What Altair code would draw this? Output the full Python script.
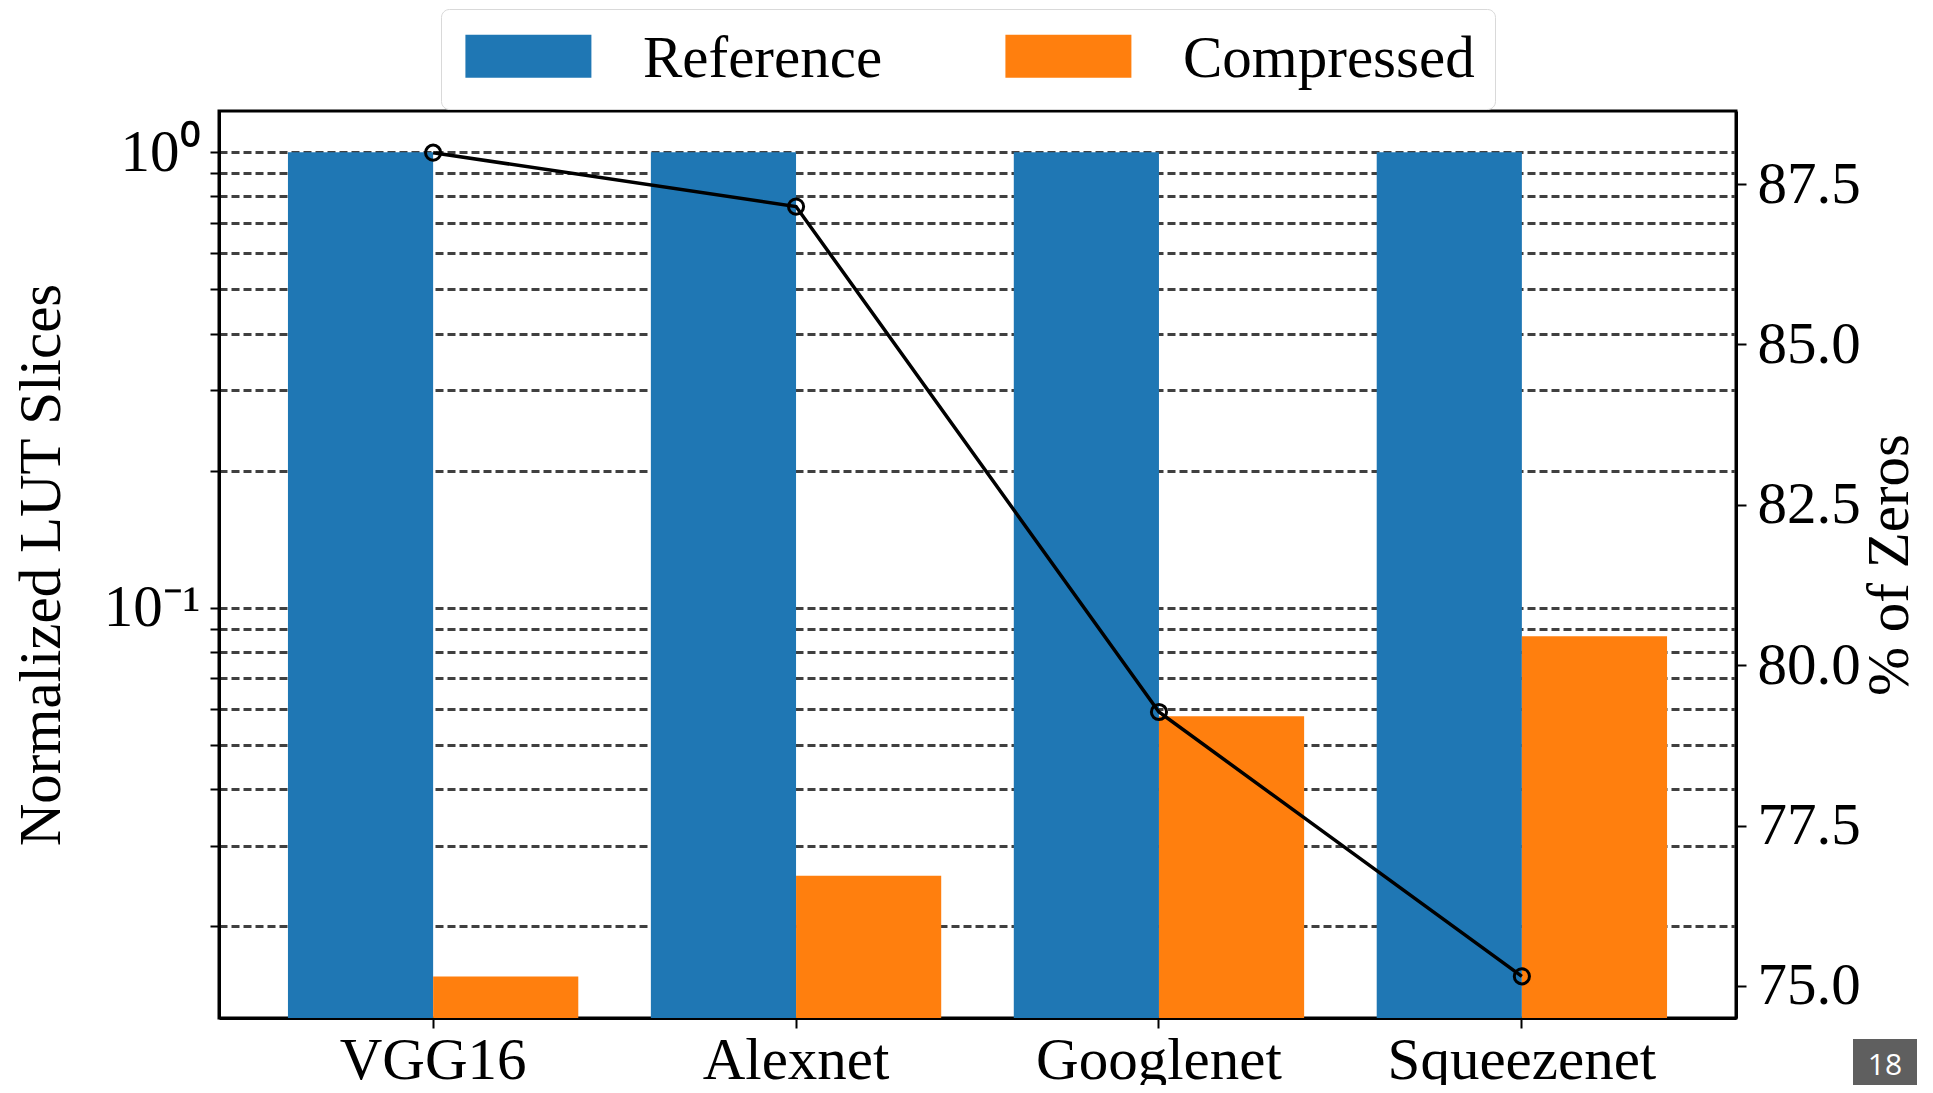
import altair as alt
import pandas as pd

# ---------------- data ----------------
models = ["VGG16", "Alexnet", "Googlenet", "Squeezenet"]
series = ["Reference", "Compressed"]
reference = [1.0, 1.0, 1.0, 1.0]
compressed = [0.0155, 0.0258, 0.0578, 0.0866]
zeros_pct = [87.99, 87.15, 79.27, 75.15]
left_ticks = [0.02, 0.03, 0.04, 0.05, 0.06, 0.07, 0.08, 0.09,
              0.1, 0.2, 0.3, 0.4, 0.5, 0.6, 0.7, 0.8, 0.9, 1.0]
right_ticks = [75.0, 77.5, 80.0, 82.5, 85.0, 87.5]
left_domain = [0.01257, 1.232]
right_domain = [74.5, 88.64]
colors = ["#1f77b4", "#ff7f0e"]

bar_df = pd.DataFrame({
    "model": models * 2,
    "series": [series[0]] * len(models) + [series[1]] * len(models),
    "value": reference + compressed,
})
line_df = pd.DataFrame({"model": models, "zeros": zeros_pct})
deco_df = pd.DataFrame({"page": ["18"]})

FONT = "Liberation Serif"
FS = 59
W, H = 1517, 907

x_enc = alt.X(
    "model:N",
    sort=models,
    scale=alt.Scale(domain=models, paddingInner=0.2, paddingOuter=0.19),
    axis=alt.Axis(
        title=None, labelAngle=0, labelFont=FONT, labelFontSize=FS,
        labelColor="black", labelPadding=3, labelLimit=0, tickSize=10, tickWidth=2,
        tickColor="black", domainColor="black", domainWidth=3, grid=False,
    ),
)

bars = alt.Chart(bar_df).mark_bar(opacity=1).encode(
    x=x_enc,
    xOffset=alt.XOffset(
        "series:N", sort=series,
        scale=alt.Scale(domain=series, paddingInner=0, paddingOuter=0),
    ),
    y=alt.Y(
        "value:Q",
        scale=alt.Scale(type="log", domain=left_domain, nice=False),
        axis=alt.Axis(
            title="Normalized LUT Slices", titleFont=FONT, titleFontSize=FS,
            titleFontWeight="normal", titleColor="black", titleAngle=270,
            titleBaseline="middle", titleAlign="center", titleX=-178, titleY=H / 2,
            values=left_ticks,
            labelExpr="abs(datum.value - 1) < 1e-9 ? '10⁰' : (abs(datum.value - 0.1) < 1e-9 ? '10⁻¹' : '')",
            labelFont=FONT, labelFontSize=FS, labelColor="black", labelPadding=10,
            labelOverlap=False, tickSize=9, tickWidth=2, tickColor="black",
            domainColor="black", domainWidth=3,
            grid=True, gridColor="#404040", gridDash=[8, 4], gridWidth=3,
        ),
    ),
    y2=alt.datum(left_domain[0]),
    color=alt.Color(
        "series:N", sort=series,
        scale=alt.Scale(domain=series, range=colors),
        legend=alt.Legend(
            title=None, orient="none", legendX=222, legendY=-102,
            direction="horizontal",
            symbolType="M-1.167,-1.116H4.693V0.884H-1.167Z", symbolSize=1849,
            symbolStrokeWidth=0, symbolOpacity=1,
            labelFont=FONT, labelFontSize=FS, labelColor="black",
            labelOffset=123, labelLimit=0, columnPadding=118, padding=20,
            fillColor="white", strokeColor="#d9d9d9", cornerRadius=8,
        ),
    ),
)

y_right = alt.Y(
    "zeros:Q",
    scale=alt.Scale(domain=right_domain, nice=False, zero=False),
    axis=alt.Axis(
        orient="right", values=right_ticks, format=".1f",
        title="% of Zeros", titleFont=FONT, titleFontSize=FS,
        titleFontWeight="normal", titleColor="black", titleAngle=270,
        titleBaseline="middle", titleAlign="center", titleX=153, titleY=H / 2,
        labelFont=FONT, labelFontSize=FS, labelColor="black", labelPadding=11,
        labelOverlap=False, tickSize=10, tickWidth=2, tickColor="black",
        domainColor="black", domainWidth=3, grid=False,
    ),
)

base = alt.Chart(line_df).encode(x=x_enc, y=y_right)
line = base.mark_line(color="black", strokeWidth=3.5)
pts = base.mark_point(shape="circle", size=230, filled=False, color="black",
                      strokeWidth=3, opacity=1)
line_layer = alt.layer(line, pts)

box = alt.Chart(deco_df).mark_rect(color="#5f5f5f").encode(
    x=alt.value(1634), x2=alt.value(1698), y=alt.value(928), y2=alt.value(990)
)
page = alt.Chart(deco_df).mark_text(
    color="white", font="Open Sans", fontSize=30, align="center", baseline="middle"
).encode(x=alt.value(1666), y=alt.value(955), text="page:N")

chart = (
    alt.layer(bars, line_layer, box, page)
    .resolve_scale(y="independent")
    .properties(
        width=W, height=H,
        padding={"left": 211, "top": 103, "right": 182, "bottom": 67},
        autosize=alt.AutoSizeParams(type="none"),
    )
    .configure_view(stroke="black", strokeWidth=3)
)

chart.save("out.html", embed_options={"renderer": "svg", "actions": False})
